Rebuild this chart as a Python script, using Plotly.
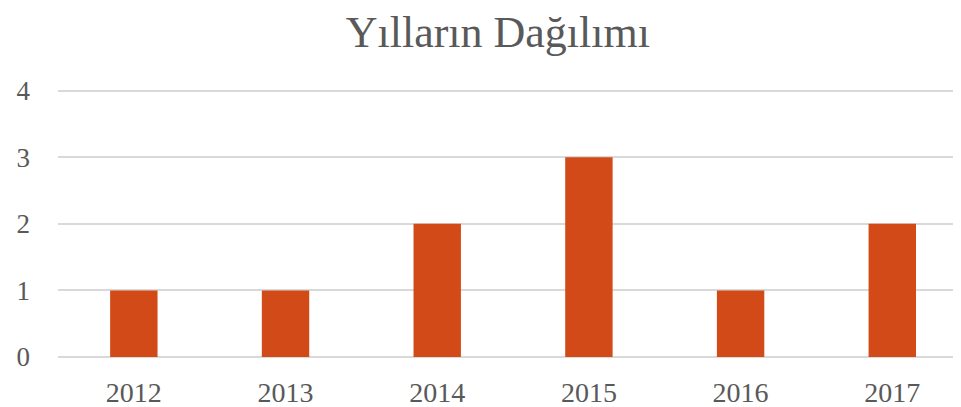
import plotly.graph_objects as go

years = ["2012", "2013", "2014", "2015", "2016", "2017"]
counts = [1, 1, 2, 3, 1, 2]
title_text = "Yılların Dağılımı"

fig = go.Figure(go.Bar(x=years, y=counts, marker=dict(color="#D24A17", line=dict(width=0))))
fig.update_layout(
    width=953, height=399,
    margin=dict(l=50, r=0, t=81, b=50),
    paper_bgcolor="white", plot_bgcolor="white",
    bargap=0.6875,
    showlegend=False,
    font=dict(family="Liberation Serif", color="#595959"),
    title=dict(text=title_text, x=0.514, xref="container", xanchor="center",
               y=0.902, yref="container", yanchor="bottom",
               font=dict(size=44, color="#595959", family="Liberation Serif")),
)
fig.update_xaxes(showgrid=False, showline=False, ticks="", automargin=False,
                 range=[-0.5, 5.453], ticklabelstandoff=16,
                 tickfont=dict(size=28, color="#595959"))
fig.update_yaxes(range=[0, 4.024], dtick=1, showgrid=True, gridcolor="#D9D9D9", gridwidth=1.5,
                 zeroline=True, zerolinecolor="#D9D9D9", zerolinewidth=1.5, automargin=False,
                 ticks="", ticklabelstandoff=27, tickfont=dict(size=27, color="#595959"))
fig.write_html("out.html")
